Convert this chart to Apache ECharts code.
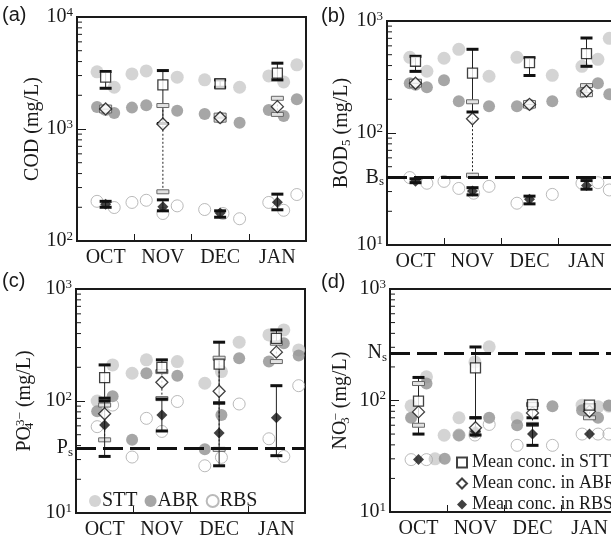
<!DOCTYPE html>
<html>
<head>
<meta charset="utf-8">
<script src="https://cdn.jsdelivr.net/npm/echarts@6/dist/echarts.min.js"></script>
<style>
  html, body { margin: 0; background: #fff; }
  #chart { width: 611px; height: 539px; }
</style>
</head>
<body>
<div id="chart"></div>
<script>
const months = ['OCT', 'NOV', 'DEC', 'JAN'];
const sites = ['STT', 'ABR', 'RBS'];
const meanNames = ['Mean conc. in STT', 'Mean conc. in ABR', 'Mean conc. in RBS'];

// samples: [sampling time in months from 1 Oct, conc. mg/L]
const codSTT = [[0.35, 3240], [0.65, 2360], [0.96, 3100], [1.21, 3300], [1.75, 2900], [2.23, 2750], [2.84, 2360], [3.35, 2980], [3.61, 2630], [3.84, 3740]];
const codABR = [[0.35, 1574], [0.5, 1480], [0.65, 1390], [0.96, 1552], [1.21, 1630], [1.75, 1458], [2.23, 1362], [2.5, 1262], [2.84, 1138], [3.35, 1480], [3.61, 1306], [3.84, 1845]];
const codRBS = [[0.35, 226], [0.65, 199], [0.96, 221], [1.21, 231], [1.5, 176], [1.75, 206], [2.23, 191], [2.55, 176], [2.84, 158], [3.35, 221], [3.61, 188], [3.84, 260]];

const bodSTT = [[0.4, 474], [0.7, 356], [1.0, 465], [1.26, 559], [1.79, 321], [2.28, 474], [2.9, 327], [3.42, 394], [3.7, 455], [3.9, 701]];
const bodABR = [[0.4, 278], [0.5, 270], [0.7, 256], [1.0, 296], [1.26, 192], [1.79, 173], [2.28, 173], [2.5, 180], [2.9, 192], [3.42, 231], [3.7, 278], [3.9, 222]];
const bodRBS = [[0.4, 40], [0.7, 35.6], [1.0, 37], [1.26, 32], [1.52, 29], [1.79, 33.4], [2.28, 23.6], [2.9, 28.3], [3.42, 35.6], [3.7, 36], [3.9, 31]];

const po4STT = [[0.37, 100], [0.64, 210], [0.98, 177], [1.23, 233], [1.77, 225], [2.25, 144], [2.54, 183], [2.85, 335], [3.37, 389], [3.63, 431], [3.89, 286]];
const po4ABR = [[0.37, 81], [0.64, 110], [0.98, 45], [1.23, 177], [1.77, 168], [2.25, 37], [2.54, 75], [2.85, 241], [3.37, 225], [3.63, 328], [3.89, 255]];
const po4RBS = [[0.37, 59], [0.64, 92], [0.98, 31.6], [1.23, 70], [1.5, 53.5], [1.77, 99], [2.25, 26.4], [2.54, 31.4], [2.85, 94], [3.37, 46], [3.63, 32], [3.89, 137]];

const no3STT = [[0.37, 89.5], [0.64, 163], [0.79, 30], [0.95, 48.8], [1.21, 70], [1.49, 222], [1.74, 303], [2.23, 70], [2.5, 92], [3.37, 90.8], [3.65, 88], [3.84, 89]];
const no3ABR = [[0.37, 70], [0.64, 142], [0.96, 30], [1.21, 48.8], [1.49, 52], [1.74, 70], [2.23, 60], [2.85, 89], [3.37, 81.8], [3.65, 70], [3.84, 90]];
const no3RBS = [[0.37, 29.5], [0.64, 29.5], [1.21, 49], [1.49, 49], [1.74, 61], [2.23, 39.6], [2.85, 39.6], [3.37, 50], [3.65, 50], [3.84, 50]];

// monthly stats: [mean, low, high]
const codStatSTT = [[2900, 2310, 3260], [2477, 1120, 3325], [2530, 2360, 2745], [3150, 2745, 3870]];
const codStatABR = [[1510, 1450, 1570], [1109, 275, 1620], [1262, 1200, 1330], [1584, 1350, 1880]];
const codStatRBS = [[213, 200, 226], [202, 186, 233], [178, 163, 186], [222, 190, 262]];

const bodStatSTT = [[437, 355, 484], [343, 154, 559], [425, 326, 471], [511, 394, 705]];
const bodStatABR = [[278, 268, 290], [134, 42, 190], [180, 174, 187], [237, 220, 265]];
const bodStatRBS = [[37, 36, 39], [30.3, 28, 32.5], [25.6, 23.3, 27.3], [34, 31.5, 37.6]];

const po4StatSTT = [[162, 106, 210], [200, 183, 233], [213, 96, 335], [363, 335, 431]];
const po4StatABR = [[77, 45, 92], [147, 105, 183], [122, 37, 241], [273, 225, 328]];
const po4StatRBS = [[61, 32, 100], [75, 54, 104], [51.8, 26.4, 96], [71, 32.5, 137]];

const no3StatSTT = [[98.6, 50, 161], [196, 70, 302], [92, 70, 92], [90.8, 85, 92]];
const no3StatABR = [[79, 60, 142], [57, null, null], [77.4, 61, 92], [80, 70, 88]];
const no3StatRBS = [[29.5, null, null], [53, 49, 70], [50, 39.6, 61], [50, null, null]];

// standards
const bodStd = 40;
const po4Std = 38;
const no3Std = 268;

const serif = 'Liberation Serif';
const sans = 'Liberation Sans';
const ink = '#1a1a1a';

const panels = [
  { tag: '(a)', tagPos: [2, 5], grid: { left: 77, top: 17, width: 229, height: 224 }, min: 100, max: 10000,
    name: '{t|COD (mg/L)}', nameGap: 27, samples: [codSTT, codABR, codRBS], stats: [codStatSTT, codStatABR, codStatRBS] },
  { tag: '(b)', tagPos: [321, 6], grid: { left: 387, top: 21, width: 228, height: 224 }, min: 10, max: 1000,
    name: '{t|BOD}{sub|5}{t| (mg/L)}', nameGap: 31, samples: [bodSTT, bodABR, bodRBS], stats: [bodStatSTT, bodStatABR, bodStatRBS],
    std: bodStd, stdLabel: '{t|B}{sub|s}' },
  { tag: '(c)', tagPos: [2, 271], grid: { left: 76, top: 289, width: 229, height: 224 }, min: 10, max: 1000,
    name: '{t|PO}{subz|4}{sup|3\u2212}{t| (mg/L)}', nameGap: 40, samples: [po4STT, po4ABR, po4RBS], stats: [po4StatSTT, po4StatABR, po4StatRBS],
    std: po4Std, stdLabel: '{t|P}{sub|s}' },
  { tag: '(d)', tagPos: [321, 272], grid: { left: 390, top: 289, width: 228, height: 223 }, min: 10, max: 1000,
    name: '{t|NO}{subz|3}{sup|\u2212}{t| (mg/L)}', nameGap: 38, samples: [no3STT, no3ABR, no3RBS], stats: [no3StatSTT, no3StatABR, no3StatRBS],
    std: no3Std, stdLabel: '{t|N}{sub|s}' },
];

const textRich = {
  t: { fontFamily: serif, fontSize: 20, lineHeight: 22, color: ink },
  sub: { fontFamily: serif, fontSize: 13, lineHeight: 13, verticalAlign: 'bottom', color: ink },
  subz: { fontFamily: serif, fontSize: 13, lineHeight: 13, verticalAlign: 'bottom', color: ink, width: 0.1 },
  sup: { fontFamily: serif, fontSize: 13, lineHeight: 13, verticalAlign: 'top', color: ink },
};
const powRich = {
  b: { fontFamily: serif, fontSize: 20, lineHeight: 22, color: ink },
  s: { fontFamily: serif, fontSize: 13, lineHeight: 13, verticalAlign: 'top', color: ink },
};

const sampleStyle = [
  { symbolSize: 13, itemStyle: { color: '#c9c9c9' } },
  { symbolSize: 12, itemStyle: { color: '#909090' } },
  { symbolSize: 12, itemStyle: { color: 'rgba(255,255,255,0)', borderColor: '#a9a9a9', borderWidth: 1 } },
];
const meanStyle = [
  { symbol: 'rect', symbolSize: 10, itemStyle: { color: '#fff', borderColor: '#111', borderWidth: 1.3 } },
  { symbol: 'diamond', symbolSize: 12, itemStyle: { color: '#fff', borderColor: '#111', borderWidth: 1.3 } },
  { symbol: 'diamond', symbolSize: 11, itemStyle: { color: '#111' } },
];

function minorValues(min, max) {
  const out = [];
  for (let d = min; d < max; d *= 10) {
    for (let k = 2; k <= 9; k++) out.push([0, d * k]);
  }
  return out;
}

function errorBar(site) {
  return function (params, api) {
    const x = api.value(0);
    const lo = api.coord([x, api.value(1)]);
    const hi = api.coord([x, api.value(2)]);
    const half = 6;
    const children = [{
      type: 'line',
      shape: { x1: lo[0], y1: lo[1], x2: hi[0], y2: hi[1] },
      style: { stroke: '#222', lineWidth: 1, lineDash: site === 1 ? [2, 2] : null },
    }];
    [lo, hi].forEach(p => {
      if (site === 1) {
        children.push({ type: 'rect', shape: { x: p[0] - half, y: p[1] - 2, width: half * 2, height: 4 },
          style: { fill: '#e2e2e2', stroke: '#666', lineWidth: 1 } });
      } else {
        children.push({ type: 'line', shape: { x1: p[0] - half, y1: p[1], x2: p[0] + half, y2: p[1] },
          style: { stroke: '#111', lineWidth: 3 } });
      }
    });
    return { type: 'group', children };
  };
}

const grid = [], xAxis = [], yAxis = [], series = [], graphic = [];

panels.forEach((p, i) => {
  grid.push(Object.assign({ show: true, borderColor: ink, borderWidth: 2, outerBoundsMode: 'none', containLabel: false }, p.grid));
  xAxis.push({
    gridIndex: i, type: 'value', min: 0, max: 4,
    axisLine: { lineStyle: { color: ink, width: 2 } },
    axisTick: { inside: true, length: 7, customValues: [1, 2, 3], lineStyle: { color: ink, width: 1 } },
    axisLabel: { margin: 7, customValues: [0.5, 1.5, 2.5, 3.5], formatter: v => months[Math.floor(v)],
      fontFamily: serif, fontSize: 20, color: ink },
    splitLine: { show: false },
  });
  yAxis.push({
    gridIndex: i, type: 'log', logBase: 10, min: p.min, max: p.max,
    name: p.name, nameLocation: 'middle', nameGap: p.nameGap, nameRotate: 90,
    nameTextStyle: { fontFamily: serif, fontSize: 20, color: ink, rich: textRich },
    axisLine: { show: true, lineStyle: { color: ink, width: 2 } },
    axisTick: { show: true, inside: true, length: 9, lineStyle: { color: ink, width: 1 } },
    axisLabel: { margin: 4, formatter: v => `{b|10}{s|${Math.round(Math.log10(v))}}`, rich: powRich },
    splitLine: { show: false },
  });

  series.push({
    type: 'custom', xAxisIndex: i, yAxisIndex: i, silent: true, z: 1,
    data: minorValues(p.min, p.max),
    renderItem: (params, api) => {
      const c = api.coord([0, api.value(1)]);
      return { type: 'line', shape: { x1: c[0], y1: c[1], x2: c[0] + 5, y2: c[1] }, style: { stroke: ink, lineWidth: 1 } };
    },
  });

  p.samples.forEach((d, s) => {
    series.push(Object.assign({ type: 'scatter', name: sites[s], xAxisIndex: i, yAxisIndex: i, symbol: 'circle', z: 2, data: d }, sampleStyle[s]));
  });

  p.stats.forEach((st, s) => {
    series.push({
      type: 'custom', xAxisIndex: i, yAxisIndex: i, silent: true, z: 3,
      encode: { x: 0, y: [1, 2] },
      data: st.map((r, m) => r[1] == null ? null : [m + 0.5, r[1], r[2]]).filter(Boolean),
      renderItem: errorBar(s),
    });
  });

  [2, 1, 0].forEach(s => {
    series.push(Object.assign({
      type: 'scatter', name: meanNames[s], xAxisIndex: i, yAxisIndex: i, z: 4 + (2 - s) * 0.1,
      data: p.stats[s].map((r, m) => [m + 0.5, r[0]]),
    }, meanStyle[s]));
  });

  if (p.std != null) {
    series.push({
      type: 'scatter', xAxisIndex: i, yAxisIndex: i, data: [], silent: true, z: 6,
      markLine: {
        silent: true, symbol: ['none', 'none'], animation: false,
        lineStyle: { color: '#111', width: 3, type: [20, 7] },
        label: { show: true, position: 'start', distance: 3, formatter: p.stdLabel, rich: textRich },
        data: [{ yAxis: p.std }],
      },
    });
  }

  graphic.push({
    type: 'text', left: p.tagPos[0], top: p.tagPos[1],
    style: { text: p.tag, fontFamily: sans, fontSize: 20, fill: ink },
  });
});

const chart = echarts.init(document.getElementById('chart'));
chart.setOption({
  animation: false,
  backgroundColor: '#fff',
  grid, xAxis, yAxis, series, graphic,
  legend: [
    {
      data: sites, left: 84, top: 486, icon: 'circle', itemWidth: 12, itemHeight: 12, itemGap: 7,
      selectedMode: false, textStyle: { fontFamily: serif, fontSize: 20, color: ink, padding: [0, 0, 0, -4] },
    },
    {
      data: meanNames, orient: 'vertical', left: 451, top: 448, itemWidth: 10, itemHeight: 10, itemGap: 2,
      selectedMode: false, textStyle: { fontFamily: serif, fontSize: 18, color: ink, lineHeight: 19 },
    },
  ],
});
</script>
</body>
</html>
